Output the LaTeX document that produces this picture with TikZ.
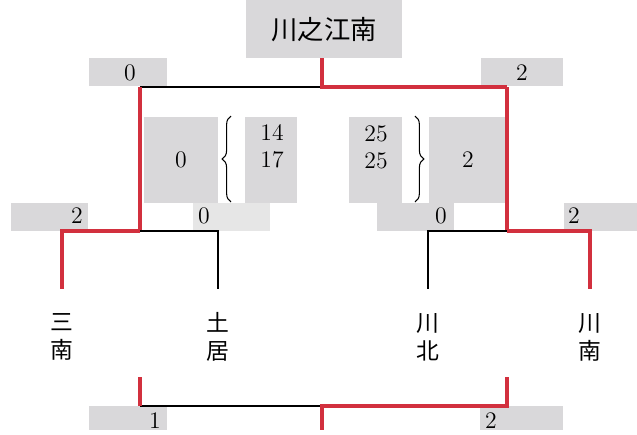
\documentclass[tikz,border=0pt]{standalone}
\usepackage{fontspec}
\newfontfamily\jpfont{Noto Sans CJK JP}
\usetikzlibrary{decorations.pathreplacing}
\definecolor{boxgray}{HTML}{D9D8DA}
\definecolor{lightgray}{HTML}{E6E6E6}
\definecolor{winred}{HTML}{D2303E}

\begin{document}
\begin{tikzpicture}[x=0.02cm,y=-0.02cm,
    box/.style={fill=boxgray, inner sep=0pt},
    win/.style={winred, line width=2.2pt},
    lose/.style={black, line width=1pt},
    score/.style={font=\fontsize{13.5}{15.3}\selectfont, align=center},
    team/.style={font=\jpfont\fontsize{13}{16}\selectfont, align=center}]

    \path[fill=white] (0,0) rectangle (637,430);

    % score boxes
    \node[box, minimum width=3.12cm, minimum height=1.16cm] (title) at (324,29) {};
    \node[box, minimum width=1.56cm, minimum height=0.56cm] (tl) at (128,72) {};
    \node[box, minimum width=1.64cm, minimum height=0.56cm] (tr) at (522,72) {};
    \node[box, minimum width=1.48cm, minimum height=1.72cm] (ml) at (181,160) {};
    \node[box, minimum width=1.04cm, minimum height=1.72cm] (setl) at (271,160) {};
    \node[box, minimum width=1.06cm, minimum height=1.72cm] (setr) at (375.5,160) {};
    \node[box, minimum width=1.52cm, minimum height=1.72cm] (mr) at (467,160) {};
    \node[box, minimum width=1.54cm, minimum height=0.56cm] (lla) at (49.5,217) {};
    \node[box, fill=lightgray, minimum width=1.54cm, minimum height=0.56cm] (llb) at (231.5,217) {};
    \node[box, minimum width=1.54cm, minimum height=0.56cm] (rra) at (415.5,217) {};
    \node[box, minimum width=1.46cm, minimum height=0.56cm] (rrb) at (600.5,217) {};
    \node[box, minimum width=1.56cm, minimum height=0.48cm] (bl) at (128,418) {};
    \node[box, minimum width=1.66cm, minimum height=0.48cm] (br) at (521.5,418) {};

    % texts
    \node[team, font=\jpfont\fontsize{15}{18}\selectfont] (titletext) at (324,30) {川之江南};
    \node[score] (tlscore) at (130,73) {0};
    \node[score] (trscore) at (522,73) {2};
    \node[score] (mlscore) at (181,160) {0};
    \node[score] (setlscore) at (272,146) {14\\17};
    \node[score] (setrscore) at (376,147) {25\\25};
    \node[score] (mrscore) at (468,160) {2};
    \node[score] (llascore) at (77,216) {2};
    \node[score] (llbscore) at (204,216) {0};
    \node[score] (rrascore) at (441,216) {0};
    \node[score] (rrbscore) at (574,216) {2};
    \node[score] (blscore) at (155,421) {1};
    \node[score] (brscore) at (491,421) {2};

    % braces
    \draw[decorate, decoration={brace, amplitude=5pt}, line width=0.6pt] (231,202) -- (231,116);
    \draw[decorate, decoration={brace, amplitude=5pt}, line width=0.6pt] (415,116) -- (415,202);

    % teams
    \node[team] (sanan) at (62,337) {三\\南};
    \node[team] (doi) at (218,337) {土\\居};
    \node[team] (senpoku) at (428,337) {川\\北};
    \node[team] (sennan) at (590,337) {川\\南};

    \coordinate (top) at (322,87);
    \coordinate (lj) at (140,231);
    \coordinate (rj) at (507,231);
    \coordinate (sananleg) at (62,289);
    \coordinate (doileg) at (218,289);
    \coordinate (senpokuleg) at (428,289);
    \coordinate (sennanleg) at (590,289);
    \coordinate (bot) at (322,406);
    \coordinate (botl) at (140,377);
    \coordinate (botr) at (507,377);
    \coordinate (botend) at (322,430);

    % bracket
    \draw[lose] (lj |- top) -- (top);
    \draw[win] (title.south -| top) -- (top) -- (rj |- top);
    \draw[win] (lj |- top) -- (lj);
    \draw[win] (rj |- top) -- (rj);
    \draw[lose] (lj) -| (doileg);
    \draw[win] (lj) -| (sananleg);
    \draw[lose] (rj) -| (senpokuleg);
    \draw[win] (rj) -| (sennanleg);

    % lower bracket
    \draw[lose] (botl |- bot) -- (bot);
    \draw[win] (botl) -- (botl |- bot);
    \draw[win] (botr) |- (bot) -- (botend);

\end{tikzpicture}
\end{document}
